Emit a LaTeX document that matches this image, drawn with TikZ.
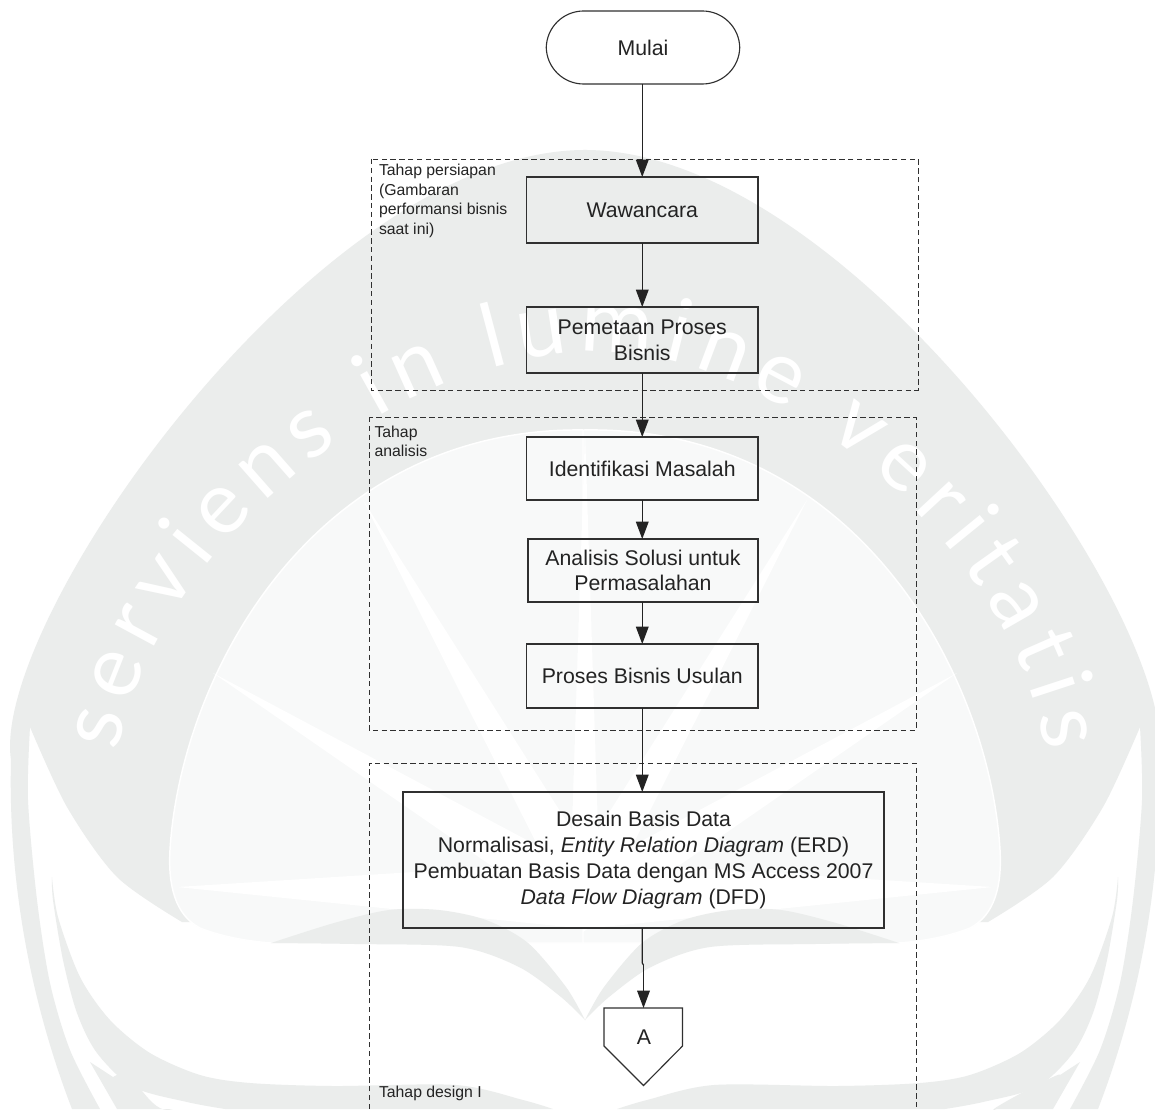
\documentclass[tikz,border=0pt]{standalone}
\usepackage{fontspec}
\setmainfont{Liberation Sans}
\newfontfamily\wmfam{Lato}
\usetikzlibrary{arrows.meta,decorations.text}
\definecolor{wmgray}{HTML}{EBEDEC}
\definecolor{wmdome}{HTML}{F8F9F9}
\definecolor{ink}{HTML}{232323}
\definecolor{edge}{HTML}{303030}
\newcommand{\wmfont}{\fontsize{66pt}{66pt}\selectfont\wmfam}
\tikzset{
  procbox/.style={draw=edge,line width=0.85pt,rectangle,inner sep=0pt,outer sep=0pt,align=center,text=ink,
    font=\fontsize{15.95pt}{19.3pt}\selectfont},
  stagebox/.style={draw=edge,line width=0.7pt,dash pattern=on 4pt off 2.6pt},
  stagelabel/.style={inner sep=0pt,outer sep=0pt,align=left,anchor=north west,text=ink,
    font=\fontsize{11.85pt}{14.6pt}\selectfont},
  flow/.style={draw=ink,line width=0.9pt,-{Triangle[length=13pt,width=9.5pt]}},
  plainflow/.style={draw=ink,line width=0.9pt},
}
\begin{document}
\begin{tikzpicture}[x=0.75pt,y=-0.75pt]
\useasboundingbox (0,0) rectangle (1155,1109);
\fill[white] (0,0) rectangle (1155,1109);
% watermark
\foreach \s/\o in {1/0,-1/1170}{
\begin{scope}[x={\s*0.75pt},xshift=\o*0.75pt]
  \fill[wmgray] plot[smooth] coordinates {(100,1109) (70,1050) (50,983) (37,900) (28,800) (30,727)}
    -- plot[smooth] coordinates {(30,727) (67,807) (117,877) (182,922)}
    -- (587,922) -- (587,150) -- (585,150)
    .. controls (320,150) and (-10,620) .. (11,760)
    .. controls (8,880) and (30,1000) .. (72,1109)
    -- cycle;
  \fill[wmgray] plot[smooth] coordinates {(52,877) (58,917) (80,977) (110,1020) (150,1053) (200,1075) (250,1083) (333,1086) (456,1085) (523,1100) (553,1109)}
    -- plot[smooth] coordinates {(225,1109) (187,1102) (133,1087) (97,1053) (77,1013) (63,960) (53,900) (52,877)} -- cycle;
  \fill[wmgray] (90,1062) -- (117,1109) -- (173,1109) to[out=-160,in=35] (113,1077) -- cycle;
  \filldraw[fill=wmdome,draw=white,line width=1.1pt] (587,430)
    .. controls (310,425) and (180,680) .. (170,850)
    .. controls (168,885) and (175,915) .. (200,928)
    .. controls (220,936) and (245,941) .. (271,943)
    -- (587,943) -- cycle;
  \fill[white] (213,673) -- (587,872) -- (587,932) -- cycle;
  \fill[white] (177,887) -- (587,861) -- (587,929) -- cycle;
  \fill[white] (363,500) -- (560,890) -- (610,890) -- cycle;
  \fill[white] (585,431) -- (570,890) -- (600,890) -- cycle;
  \fill[wmgray] plot[smooth] coordinates {(271,943) (334,923) (389,910) (439,910) (486,920) (528,943) (566,987) (585,1020)}
    -- plot[smooth] coordinates {(585,1020) (561,997) (519,967) (460,947) (355,944) (271,943)} -- cycle;
\end{scope}
}
\path[decorate,decoration={text along path,text align={fit to path},text color=white,
   text={|\wmfont|serviens in lumine veritatis}}]
  (118,752) .. controls (150,560) and (380,352) .. (600,352) .. controls (790,352) and (1020,560) .. (1045,752);
% stage frames
\draw[stagebox] (371,159) rectangle (918,390);
\draw[stagebox] (369,417) rectangle (916,730);
\draw[stagebox] (369,1109) -- (369,763) -- (916,763) -- (916,1109);
\node[stagelabel] (l1) at (379,164.5) {Tahap persiapan\\(Gambaran\\performansi bisnis\\saat ini)};
\node[stagelabel] (l2) at (374.5,426) {Tahap\\analisis};
\node[stagelabel] (l3) at (379,1086) {Tahap design I};
% process nodes
\node[procbox,rounded corners=28pt,minimum width=193.5*0.75pt,minimum height=73*0.75pt] (m) at (643,47.5) {Mulai};
\node[procbox,minimum width=231.5*0.75pt,minimum height=66*0.75pt] (w) at (642.25,210) {Wawancara};
\node[procbox,minimum width=231.5*0.75pt,minimum height=66*0.75pt] (p) at (642.25,340) {Pemetaan Proses\\Bisnis};
\node[procbox,minimum width=231.5*0.75pt,minimum height=63*0.75pt] (i) at (642.25,468.5) {Identifikasi Masalah};
\node[procbox,minimum width=230*0.75pt,minimum height=63*0.75pt] (a) at (643,570.5) {Analisis Solusi untuk\\Permasalahan};
\node[procbox,minimum width=231.5*0.75pt,minimum height=64*0.75pt] (u) at (642.25,676) {Proses Bisnis Usulan};
\node[procbox,minimum width=481*0.75pt,minimum height=136*0.75pt] (d) at (643.5,860) {Desain Basis Data\\Normalisasi, \textit{Entity Relation Diagram} (ERD)\\Pembuatan Basis Data dengan MS Access 2007\\\textit{Data Flow Diagram} (DFD)};
% off-page connector
\node[inner sep=0pt,outer sep=0pt,text=ink,font=\fontsize{15.95pt}{19.3pt}\selectfont] (A) at (644,1037) {A};
\coordinate (Atop) at (643.5,1008);
\coordinate (j1) at (642.25,963);
\coordinate (j2) at (643.5,965);
\draw[edge,line width=0.85pt,line join=miter] (Atop) -- (604,1008) -- (604,1046) -- (643.5,1085.5) -- (682.5,1046) -- (682.5,1008) -- cycle;
% connectors
\draw[flow] (m.south -| w.south) -- (w.north);
\draw[flow] (w.south) -- (p.north);
\draw[flow] (p.south) -- (i.north);
\draw[flow] (i.south) -- (i.south |- a.north);
\draw[flow] (a.south -| i.south) -- (u.north);
\draw[flow] (u.south) -- (u.south |- d.north);
\draw[plainflow] (d.south -| u.south) -- (j1) -- (j2);
\draw[flow] (j2) -- (Atop);
\end{tikzpicture}
\end{document}
